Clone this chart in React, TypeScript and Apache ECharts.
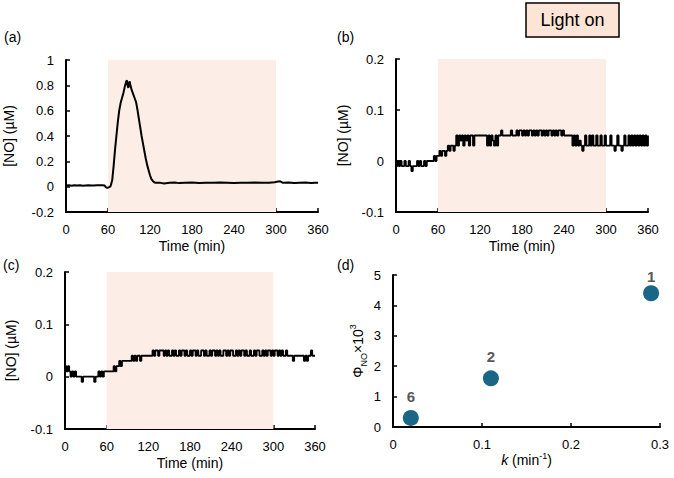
import React, { useEffect, useRef } from "react";
import * as echarts from "echarts";

// Panel (a): time (min) and [NO] (µM)
const timeA = [0, 4, 8, 12, 16, 20, 24, 28, 32, 36, 40, 44, 48, 52, 55, 57, 59, 61, 63, 64, 66, 68, 70, 72, 74, 76, 78, 80, 82, 84, 86, 87, 88, 89, 90, 91, 92, 94, 96, 98, 100, 102, 104, 106, 108, 110, 112, 114, 116, 118, 120, 122, 124, 126, 128, 135, 140, 148, 155, 162, 170, 180, 190, 200, 210, 220, 230, 240, 250, 260, 270, 280, 290, 298, 303, 306, 310, 318, 326, 334, 342, 350, 356, 360];
const noA = [0.01, 0.012, 0.008, 0.012, 0.01, 0.012, 0.008, 0.01, 0.012, 0.01, 0.01, 0.012, 0.012, 0.012, 0.01, -0.005, -0.01, -0.005, 0.0, 0.01, 0.05, 0.16, 0.29, 0.40, 0.51, 0.60, 0.66, 0.70, 0.74, 0.79, 0.83, 0.84, 0.80, 0.78, 0.82, 0.83, 0.80, 0.76, 0.73, 0.70, 0.67, 0.61, 0.54, 0.47, 0.40, 0.34, 0.28, 0.22, 0.17, 0.13, 0.09, 0.06, 0.045, 0.035, 0.03, 0.03, 0.025, 0.03, 0.032, 0.028, 0.03, 0.032, 0.028, 0.03, 0.03, 0.032, 0.03, 0.028, 0.03, 0.03, 0.032, 0.03, 0.03, 0.035, 0.04, 0.042, 0.03, 0.032, 0.028, 0.03, 0.032, 0.028, 0.03, 0.03];

// Panels (b) and (c): [NO] (µM) read every 2 min from 0 to 360 min
const SAMPLE_STEP_MIN = 2;
const noB = [
  -0.01, 0, -0.01, 0, -0.01, -0.01, 0, -0.01,
  -0.01, 0, -0.01, -0.02,
  -0.01, -0.01, -0.01, 0, -0.01, 0, -0.01, -0.01, 0, -0.01,
  0, 0, 0, 0, 0,
  0.01, 0, 0.01, 0.01,
  0.02, 0.01, 0.02, 0.02, 0.01, 0.02,
  0.03, 0.02, 0.03, 0.03, 0.02, 0.03,
  0.05, 0.03, 0.05, 0.04, 0.05, 0.03, 0.05, 0.04, 0.05, 0.03, 0.05, 0.05, 0.03,
  0.05, 0.05, 0.05, 0.05, 0.05, 0.05, 0.05, 0.05, 0.05,
  0.03, 0.05, 0.03, 0.05, 0.04, 0.03, 0.05, 0.03, 0.05, 0.05, 0.06,
  0.05, 0.05, 0.05, 0.05, 0.05, 0.05, 0.06, 0.05, 0.05, 0.05,
  0.06, 0.05, 0.06, 0.06, 0.05, 0.06, 0.05, 0.06, 0.05, 0.06, 0.06, 0.05, 0.06, 0.05, 0.06, 0.05, 0.06, 0.06, 0.05, 0.06, 0.05, 0.06, 0.05, 0.06, 0.06, 0.05, 0.06, 0.05, 0.06, 0.05, 0.06, 0.06, 0.05, 0.06, 0.05,
  0.05, 0.05, 0.05, 0.05, 0.05,
  0.03, 0.05, 0.03, 0.05, 0.03, 0.04, 0.03, 0.02,
  0.03, 0.05, 0.03, 0.03, 0.05, 0.03, 0.05, 0.03, 0.03, 0.05, 0.03, 0.03,
  0.05, 0.03, 0.03, 0.05, 0.03, 0.03, 0.03, 0.05, 0.03, 0.03, 0.02, 0.03, 0.05, 0.03, 0.03, 0.02, 0.03, 0.05, 0.03, 0.03, 0.05, 0.03,
  0.05, 0.03, 0.05, 0.03, 0.05, 0.03, 0.05, 0.03, 0.05, 0.03, 0.05, 0.03, 0.05,
];
const noC = [
  0.02, 0.01, 0.02,
  0.01, 0, 0.01, 0, 0.01,
  0, 0, 0, 0,
  -0.01, 0,
  0, 0, 0, 0, 0, 0, 0,
  -0.01,
  0, 0, 0.01,
  0, 0.01, 0, 0.01, 0.01, 0.01,
  0.01, 0.01, 0.01, 0.01,
  0.02, 0.01, 0.02, 0.02,
  0.03, 0.02, 0.03, 0.03,
  0.03, 0.03, 0.03, 0.03, 0.03,
  0.04, 0.03, 0.04, 0.03, 0.04, 0.04, 0.03, 0.04,
  0.04, 0.04, 0.04, 0.04, 0.04, 0.04, 0.04,
  0.05, 0.04, 0.05, 0.05, 0.04, 0.05, 0.05, 0.05, 0.04, 0.05,
  0.04, 0.05, 0.04, 0.04, 0.05, 0.04, 0.05, 0.04, 0.04, 0.05,
  0.04, 0.05, 0.05, 0.04, 0.05, 0.04, 0.04, 0.05, 0.04, 0.05,
  0.05, 0.04, 0.05, 0.04, 0.04, 0.05, 0.05, 0.04, 0.05, 0.04,
  0.04, 0.05, 0.04, 0.05, 0.05, 0.04, 0.05, 0.04, 0.05, 0.04,
  0.04, 0.05, 0.05, 0.04, 0.05, 0.04, 0.05, 0.05, 0.04, 0.04,
  0.05, 0.04, 0.05, 0.04, 0.05, 0.05, 0.04, 0.05, 0.04, 0.04,
  0.05, 0.04, 0.04, 0.05, 0.04, 0.05, 0.05, 0.04, 0.04, 0.05,
  0.04, 0.05, 0.04, 0.05, 0.05, 0.04, 0.05, 0.04, 0.05, 0.05,
  0.04, 0.05, 0.04, 0.05, 0.04, 0.04, 0.05, 0.04,
  0.04, 0.04, 0.04, 0.03, 0.04, 0.04, 0.04, 0.04, 0.04, 0.04, 0.04, 0.03, 0.04, 0.03, 0.04, 0.04, 0.05, 0.04, 0.04, 0.04,
];

// Panel (d)
const kValues = [0.02, 0.11, 0.29];
const phiValues = [0.3, 1.6, 4.4];
const compoundLabels = ["6", "2", "1"];

// Light-on window (min)
const lightStart = 60;
const lightEnd = 300;

const FONT = "'Liberation Sans', Arial, sans-serif";
const SHADE = "#FCEEE6";

function axisCommon() {
  return {
    axisLine: { show: true, onZero: false, lineStyle: { color: "#000", width: 2 } },
    axisTick: { show: true, inside: true, length: 4, lineStyle: { color: "#000", width: 1.5 } },
    splitLine: { show: false },
    axisLabel: { color: "#000", fontSize: 13, fontFamily: FONT },
    nameTextStyle: { color: "#000", fontSize: 14, fontFamily: FONT },
  };
}

function timeAxis(gridIndex: number) {
  const c = axisCommon();
  return {
    type: "value",
    gridIndex,
    min: 0,
    max: 360,
    interval: 60,
    name: "Time (min)",
    nameLocation: "middle",
    nameGap: 27,
    ...c,
    axisLabel: { ...c.axisLabel, margin: 11 },
  };
}

function noAxis(gridIndex: number, min: number, max: number, interval: number, gap: number) {
  const c = axisCommon();
  return {
    type: "value",
    gridIndex,
    min,
    max,
    interval,
    name: "[NO] (µM)",
    nameLocation: "middle",
    nameGap: gap,
    ...c,
    axisLabel: { ...c.axisLabel, margin: 12 },
  };
}

function pairsFromSteps(values: number[]) {
  return values.map((v, i) => [i * SAMPLE_STEP_MIN, v]);
}

function shadeSeries(idx: number) {
  return {
    type: "line",
    xAxisIndex: idx,
    yAxisIndex: idx,
    data: [],
    silent: true,
    z: 1,
    markArea: {
      silent: true,
      itemStyle: { color: SHADE },
      data: [[{ xAxis: lightStart }, { xAxis: lightEnd }]],
    },
  };
}

function traceSeries(idx: number, data: number[][], width: number, step: any) {
  return {
    type: "line",
    xAxisIndex: idx,
    yAxisIndex: idx,
    data,
    step,
    showSymbol: false,
    symbol: "none",
    z: 3,
    lineStyle: { color: "#000", width },
  };
}

export default function App() {
  const ref = useRef<HTMLDivElement>(null);
  useEffect(() => {
    if (!ref.current) return;
    const chart = echarts.init(ref.current, null, { renderer: "svg" });
    const dC = axisCommon();
    const option = {
      animation: false,
      backgroundColor: "#fff",
      textStyle: { fontFamily: FONT },
      grid: [
        { left: 66, top: 60, width: 252, height: 152 },
        { left: 396, top: 59, width: 252, height: 153 },
        { left: 65, top: 272, width: 250, height: 157 },
        { left: 393, top: 275, width: 267, height: 152 },
      ],
      xAxis: [
        timeAxis(0),
        timeAxis(1),
        timeAxis(2),
        {
          type: "value",
          gridIndex: 3,
          min: 0,
          max: 0.3,
          interval: 0.1,
          name: "{it|k} (min{sup|-1})",
          nameLocation: "middle",
          nameGap: 19,
          ...dC,
          axisLabel: { ...dC.axisLabel, margin: 11 },
          nameTextStyle: {
            ...dC.nameTextStyle,
            lineHeight: 16,
            rich: {
              it: { fontStyle: "italic", fontSize: 14, fontFamily: FONT, color: "#000", lineHeight: 16 },
              sup: { fontSize: 9, fontFamily: FONT, color: "#000", verticalAlign: "top", lineHeight: 16, padding: [0, 0, 6, 0] },
            },
          },
        },
      ],
      yAxis: [
        noAxis(0, -0.2, 1, 0.2, 50),
        noAxis(1, -0.1, 0.2, 0.1, 46),
        noAxis(2, -0.1, 0.2, 0.1, 47),
        {
          type: "value",
          gridIndex: 3,
          min: 0,
          max: 5,
          interval: 1,
          name: "Φ{sub|NO}×10{sup|3}",
          nameLocation: "middle",
          nameGap: 25,
          ...dC,
          axisLabel: { ...dC.axisLabel, margin: 12 },
          nameTextStyle: {
            ...dC.nameTextStyle,
            fontSize: 14,
            rich: {
              sub: { fontSize: 9, fontFamily: FONT, color: "#000", verticalAlign: "bottom", lineHeight: 20 },
              sup: { fontSize: 9, fontFamily: FONT, color: "#000", verticalAlign: "top", lineHeight: 14 },
            },
          },
        },
      ],
      series: [
        shadeSeries(0),
        shadeSeries(1),
        shadeSeries(2),
        traceSeries(0, timeA.map((t, i) => [t, noA[i]]), 2, false),
        traceSeries(1, pairsFromSteps(noB), 1.8, "end"),
        traceSeries(2, pairsFromSteps(noC), 1.8, "end"),
        {
          type: "scatter",
          xAxisIndex: 3,
          yAxisIndex: 3,
          symbolSize: 16,
          itemStyle: { color: "#1B6587", opacity: 1 },
          data: kValues.map((k, i) => ({
            value: [k, phiValues[i]],
            name: compoundLabels[i],
            label: { distance: i === 2 ? 1 : 6 },
          })),
          label: {
            show: true,
            position: "top",
            distance: 6,
            formatter: (p: any) => p.name,
            color: "#595959",
            fontSize: 15,
            fontWeight: "bold",
            fontFamily: FONT,
          },
        },
      ],
      graphic: [
        { type: "text", left: 4, top: 30, style: { text: "(a)", fontSize: 14, fontFamily: FONT, fill: "#000" } },
        { type: "text", left: 337, top: 30, style: { text: "(b)", fontSize: 14, fontFamily: FONT, fill: "#000" } },
        { type: "text", left: 3, top: 258, style: { text: "(c)", fontSize: 14, fontFamily: FONT, fill: "#000" } },
        { type: "text", left: 337, top: 258, style: { text: "(d)", fontSize: 14, fontFamily: FONT, fill: "#000" } },
        {
          type: "rect",
          shape: { x: 526, y: 3, width: 93, height: 34 },
          style: { fill: "#FCE4D6", stroke: "#000", lineWidth: 1.5 },
        },
        {
          type: "text",
          x: 572.5,
          y: 20,
          style: {
            text: "Light on",
            fontSize: 18,
            fontFamily: FONT,
            fill: "#000",
            align: "center",
            verticalAlign: "middle",
          },
        },
      ],
    };
    chart.setOption(option as any);
    return () => chart.dispose();
  }, []);
  return (
    <div
      ref={ref}
      style={{ position: "fixed", left: 0, top: 0, width: 674, height: 478, background: "#fff" }}
    />
  );
}
